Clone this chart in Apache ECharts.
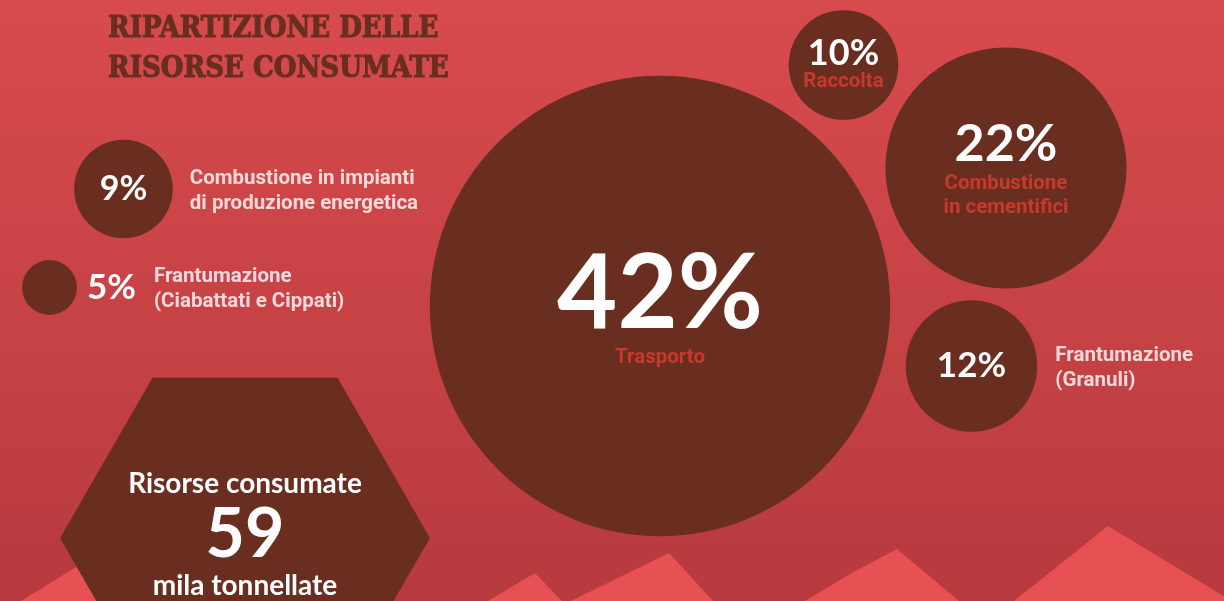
<!DOCTYPE html>
<html>
<head>
<meta charset="utf-8">
<script src="https://cdn.jsdelivr.net/npm/echarts@6/dist/echarts.min.js"></script>
<style>
  html, body { margin: 0; padding: 0; }
  body { background: linear-gradient(to bottom, #d84b4d 0%, #b73a3e 100%); }
  #chart { width: 1224px; height: 601px; }
</style>
</head>
<body>
<div id="chart"></div>
<script>
// Share of consumed resources by phase (percent)
const categories = [
  'Trasporto',
  'Combustione\nin cementifici',
  'Frantumazione\n(Granuli)',
  'Raccolta',
  'Combustione in impianti\ndi produzione energetica',
  'Frantumazione\n(Ciabattati e Cippati)'
];
const shares = [42, 22, 12, 10, 9, 5];

// Total consumed resources
const totalTitle = 'Risorse consumate';
const totalValue = 59;
const totalUnit = 'mila tonnellate';

const chartTitle = 'RIPARTIZIONE DELLE\nRISORSE CONSUMATE';

// ---- layout (pixel space of the 1224 x 601 canvas) ----
const W = 1224, H = 601;
const PX_PER_PERCENT = 10.96;            // bubble diameter per percent point
const bubbleCenters = [[660, 306], [1006, 168], [971.5, 366], [843.5, 65], [123.5, 189], [49.5, 287.5]];
const labelMode = ['inside', 'inside', 'side', 'inside', 'side', 'outside'];
const pctFont = [104, 52, 35, 36, 34, 35];
const pctLine = [104, 56, 40, 34, 40, 40];
const sideGap = [0, 0, 18, 0, 17, 77];
const hexCenter = [245, 538];

const BROWN = '#692e20';
const RED_TEXT = '#c73a2b';
const WHITE = '#ffffff';
const PEAK = '#e85153';
const SANS = 'Lato, "Open Sans", sans-serif';
const CAPTION = 'Roboto, Lato, sans-serif';
const CAPTION_SIZE = 20.5;

const chart = echarts.init(document.getElementById('chart'), null, { renderer: 'canvas' });

const bubbleData = shares.map((s, i) => {
  const mode = labelMode[i];
  const item = {
    name: categories[i],
    value: [bubbleCenters[i][0], bubbleCenters[i][1], s],
    symbolSize: s * PX_PER_PERCENT
  };
  const rich = {
    p: { fontFamily: SANS, fontWeight: 'bold', fontSize: pctFont[i], lineHeight: pctLine[i], color: WHITE, align: 'center' },
    n: { fontFamily: CAPTION, fontWeight: 'bold', fontSize: CAPTION_SIZE, lineHeight: 24, color: RED_TEXT, align: 'center' }
  };
  if (mode === 'inside') {
    item.label = { show: true, position: 'inside', formatter: p => `{p|${p.value[2]}%}\n{n|${p.name}}`, rich };
  } else if (mode === 'side') {
    item.label = { show: true, position: 'inside', formatter: p => `{p|${p.value[2]}%}`, rich };
  } else {
    item.label = { show: true, position: 'right', distance: 10, formatter: p => `{p|${p.value[2]}%}`, rich };
  }
  return item;
});

// category captions drawn beside the smaller bubbles
const sideData = shares.map((s, i) => ({ i, s })).filter(d => labelMode[d.i] !== 'inside').map(({ i, s }) => ({
  name: categories[i],
  value: [bubbleCenters[i][0], bubbleCenters[i][1], s],
  label: { distance: s * PX_PER_PERCENT / 2 + sideGap[i] }
}));

const hexPath = 'path://M-1,0 L-0.5,-0.866 L0.5,-0.866 L1,0 L0.5,0.866 L-0.5,0.866 Z';

// decorative mountain ridge along the bottom edge
const peaks = [
  [[0, 614], [76, 567], [150, 625]],
  [[488, 601], [535, 573], [562, 601]],
  [[571, 601], [669, 553], [713, 601]],
  [[805, 601], [850, 574], [897, 549], [959, 601]],
  [[1014, 601], [1108, 526], [1230, 600]]
];

chart.setOption({
  backgroundColor: 'transparent',
  animation: false,
  title: {
    text: chartTitle,
    left: 103,
    top: 4,
    textStyle: {
      fontFamily: '"DejaVu Serif Condensed", "DejaVu Serif", serif',
      fontWeight: 'bold',
      fontSize: 29,
      lineHeight: 40,
      color: BROWN,
      textBorderColor: BROWN,
      textBorderWidth: 1
    }
  },
  grid: { left: 0, right: 0, top: 0, bottom: 0 },
  xAxis: { type: 'value', min: 0, max: W, show: false },
  yAxis: { type: 'value', min: 0, max: H, inverse: true, show: false },
  graphic: peaks.map(pts => ({
    type: 'polygon',
    z: -10,
    silent: true,
    shape: { points: pts.concat([[pts[pts.length - 1][0], 620], [pts[0][0], 620]]) },
    style: { fill: PEAK }
  })),
  series: [
    {
      name: 'Quote',
      type: 'scatter',
      z: 5,
      clip: false,
      symbol: 'circle',
      itemStyle: { color: BROWN, opacity: 1 },
      emphasis: { disabled: true },
      data: bubbleData
    },
    {
      name: 'Voci',
      type: 'scatter',
      z: 6,
      clip: false,
      symbolSize: 0,
      itemStyle: { color: 'transparent' },
      emphasis: { disabled: true },
      label: {
        show: true,
        position: 'right',
        offset: [0, 2],
        formatter: p => p.name,
        fontFamily: CAPTION,
        fontWeight: 'bold',
        fontSize: CAPTION_SIZE,
        lineHeight: 25,
        color: WHITE,
        align: 'left'
      },
      data: sideData
    },
    {
      name: 'Totale',
      type: 'scatter',
      z: 4,
      clip: false,
      symbol: hexPath,
      symbolSize: [370, 320.4],
      itemStyle: { color: BROWN, opacity: 1 },
      emphasis: { disabled: true },
      label: {
        show: true,
        position: 'inside',
        offset: [0, -3],
        formatter: p => `{a|${totalTitle}}\n{b|${p.value[2]}}\n{a|${totalUnit}}`,
        rich: {
          a: { fontFamily: SANS, fontWeight: 'bold', fontSize: 28, lineHeight: 51, color: WHITE, align: 'center' },
          b: { fontFamily: SANS, fontWeight: 'bold', fontSize: 68, lineHeight: 51, color: WHITE, align: 'center' }
        }
      },
      data: [{ name: totalTitle, value: [hexCenter[0], hexCenter[1], totalValue] }]
    }
  ]
});
</script>
</body>
</html>
